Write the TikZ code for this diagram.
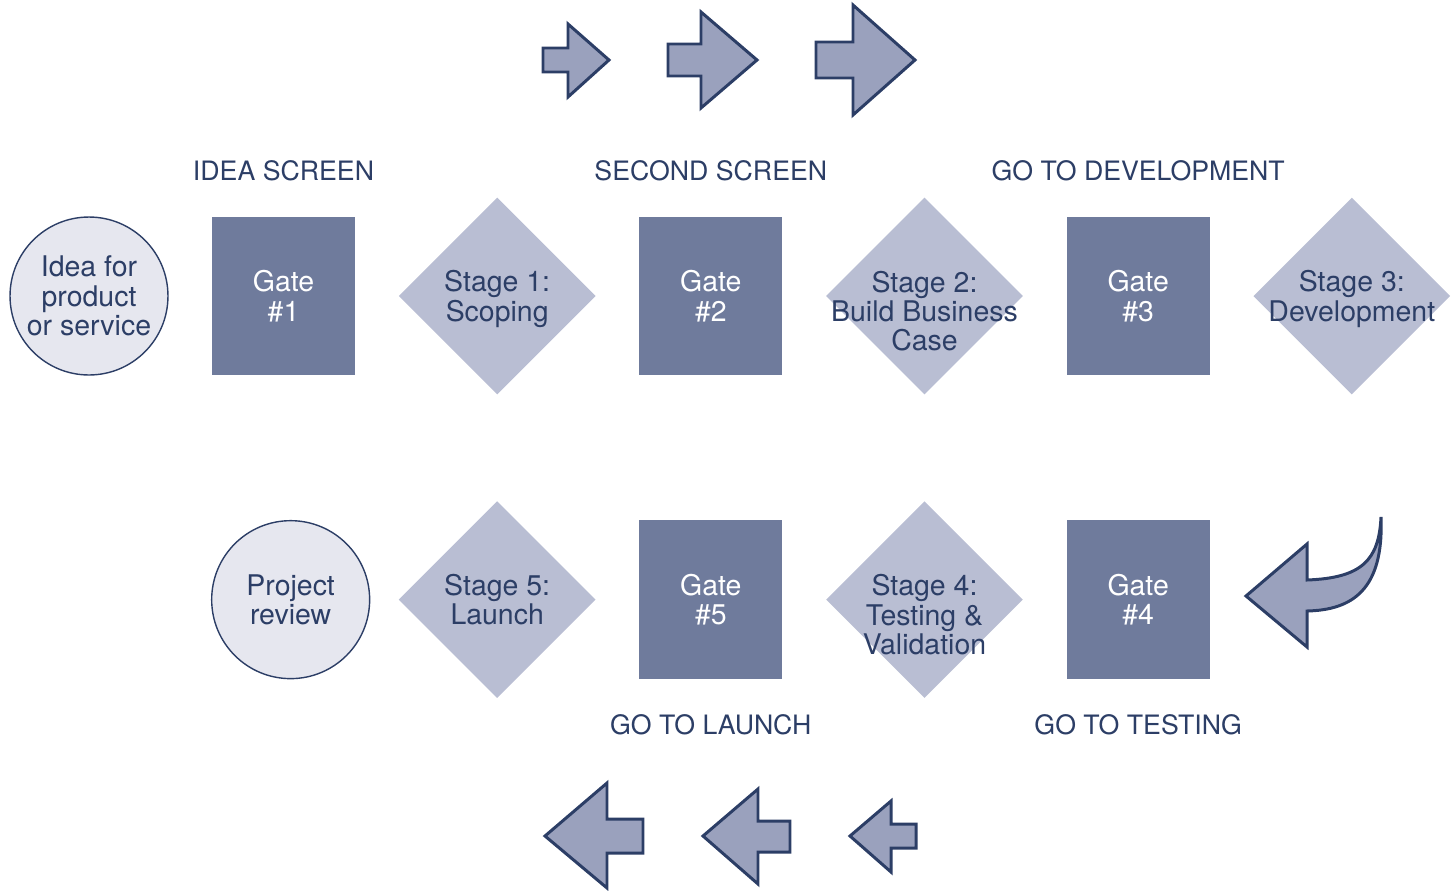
\documentclass[tikz,border=0pt]{standalone}
\usepackage{fontspec}
\setmainfont{TeX Gyre Heros}
\usetikzlibrary{positioning,shapes.geometric}
\definecolor{GateBlue}{RGB}{111,123,156}
\definecolor{StageBlue}{RGB}{185,190,211}
\definecolor{IdeaGrey}{RGB}{230,231,239}
\definecolor{ArrowBlue}{RGB}{154,161,189}
\definecolor{InkNavy}{RGB}{44,62,102}
\tikzset{
  idea/.style={circle,draw=InkNavy,fill=IdeaGrey,line width=0.8pt,
    minimum size=3.16cm,inner sep=0pt,align=center,text=InkNavy,
    font=\fontsize{16.2}{16.7}\selectfont},
  gate/.style={rectangle,fill=GateBlue,minimum width=2.86cm,
    minimum height=3.18cm,align=center,text=white,
    font=\fontsize{16.2}{16.7}\selectfont},
  stage/.style={diamond,fill=StageBlue,minimum width=3.94cm,
    minimum height=3.94cm,inner sep=0pt},
  stagetext/.style={align=center,text=InkNavy,
    font=\fontsize{16.2}{16.7}\selectfont},
  phase/.style={inner sep=0pt,text=InkNavy,
    font=\fontsize{15.2}{16}\selectfont},
  flowarrow/.style={draw=InkNavy,fill=ArrowBlue,line width=1.7pt}
}

\begin{document}
\begin{tikzpicture}[x=0.02cm,y=-0.02cm,node distance=0.86cm]
  \useasboundingbox (0,0) rectangle (1455,890);

  % top row
  \node[idea] (idea) at (89,296) {Idea for\\product\\or service};
  \node[gate,right=of idea] (gate1) {Gate\\\#1};
  \node[stage,right=of gate1,
    label={[stagetext,yshift=-0.06cm]center:{Stage 1:\\Scoping}}] (stage1) {};
  \node[gate,right=of stage1] (gate2) {Gate\\\#2};
  \node[stage,right=of gate2,
    label={[stagetext,yshift=-0.3cm]center:{Stage 2:\\Build Business\\Case}}] (stage2) {};
  \node[gate,right=of stage2] (gate3) {Gate\\\#3};
  \node[stage,right=of gate3,
    label={[stagetext,yshift=-0.06cm]center:{Stage 3:\\Development}}] (stage3) {};

  % bottom row
  \node[gate,below=2.88cm of gate3] (gate4) {Gate\\\#4};
  \node[stage,left=of gate4,
    label={[stagetext,yshift=-0.3cm]center:{Stage 4:\\Testing \&\\Validation}}] (stage4) {};
  \node[gate,left=of stage4] (gate5) {Gate\\\#5};
  \node[stage,left=of gate5,
    label={[stagetext]center:{Stage 5:\\Launch}}] (stage5) {};
  \node[idea,left=0.56cm of stage5] (review) {Project\\review};

  % gate decisions
  \node[phase,above=0.7cm of gate1] (ideascreen) {IDEA SCREEN};
  \node[phase,above=0.7cm of gate2] (secondscreen) {SECOND SCREEN};
  \node[phase,above=0.7cm of gate3] (development) {GO TO DEVELOPMENT};
  \node[phase,below=0.7cm of gate5] (launch) {GO TO LAUNCH};
  \node[phase,below=0.7cm of gate4] (testing) {GO TO TESTING};

  % direction arrows
  \draw[flowarrow] (543,48) -- (568,48) -- (568,24) -- (609,60)
    -- (568,97) -- (568,72) -- (543,72) -- cycle;
  \draw[flowarrow] (668,44) -- (701,44) -- (701,12) -- (757,60)
    -- (701,108) -- (701,76) -- (668,76) -- cycle;
  \draw[flowarrow] (816,42) -- (853,42) -- (853,5) -- (915,60)
    -- (853,115) -- (853,78) -- (816,78) -- cycle;
  \draw[flowarrow] (1246,596) -- (1307,544) -- (1307,580)
    .. controls (1362,578) and (1379,560) .. (1381,517)
    .. controls (1384,590) and (1352,610) .. (1307,611)
    -- (1307,647) -- cycle;
  \draw[flowarrow] (916,824) -- (891,824) -- (891,801) -- (850,836)
    -- (891,872) -- (891,848) -- (916,848) -- cycle;
  \draw[flowarrow] (790,821) -- (758,821) -- (758,789) -- (703,836)
    -- (758,884) -- (758,852) -- (790,852) -- cycle;
  \draw[flowarrow] (643,819) -- (607,819) -- (607,783) -- (545,836)
    -- (607,888) -- (607,853) -- (643,853) -- cycle;
\end{tikzpicture}
\end{document}
